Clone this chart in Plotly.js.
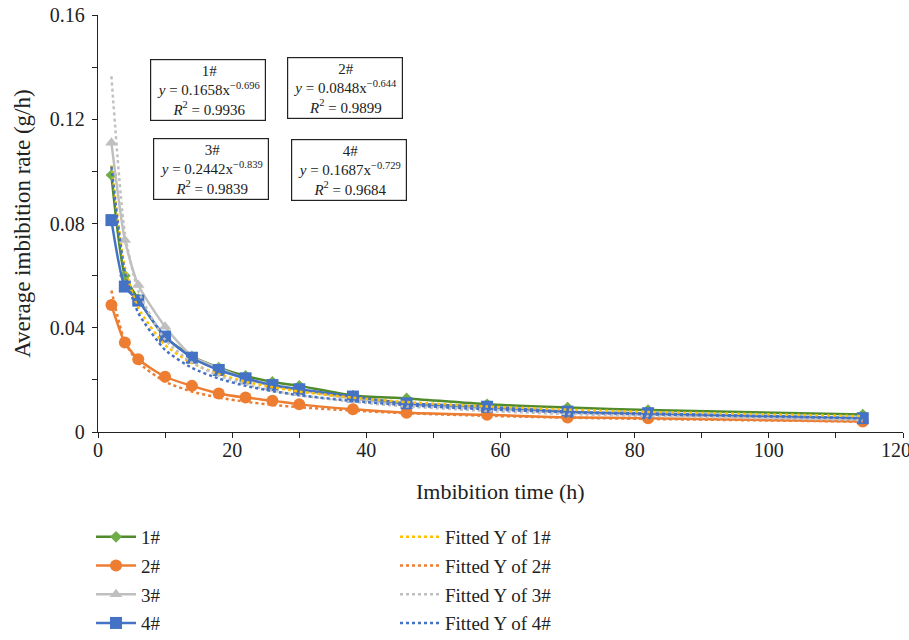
<!DOCTYPE html>
<html>
<head>
<meta charset="utf-8">
<script src="https://cdn.plot.ly/plotly-3.0.1.min.js"></script>
<style>html,body{margin:0;padding:0;background:#fff;}#chart{width:909px;height:640px;}</style>
</head>
<body>
<div id="chart"></div>
<script>
// Imbibition time (h)
const timeH = [2, 4, 6, 10, 14, 18, 22, 26, 30, 38, 46, 58, 70, 82, 114];

// Measured average imbibition rate (g/h)
const rate1 = [0.0986, 0.0600, 0.0510, 0.0365, 0.0290, 0.0247, 0.0215, 0.0192, 0.0177, 0.0140, 0.0129, 0.0106, 0.0094, 0.0084, 0.0067];
const rate2 = [0.0487, 0.0343, 0.0279, 0.0212, 0.0177, 0.0148, 0.0132, 0.0120, 0.0106, 0.0087, 0.0074, 0.0066, 0.0056, 0.0053, 0.0040];
const rate3 = [0.1110, 0.0737, 0.0564, 0.0404, 0.0291, 0.0245, 0.0205, 0.0178, 0.0160, 0.0128, 0.0105, 0.0090, 0.0074, 0.0066, 0.0048];
const rate4 = [0.0813, 0.0558, 0.0504, 0.0366, 0.0285, 0.0238, 0.0206, 0.0180, 0.0164, 0.0136, 0.0110, 0.0097, 0.0078, 0.0072, 0.0053];

// Fitted Y values
const fit1 = [0.1023, 0.0632, 0.0476, 0.0334, 0.0264, 0.0222, 0.0193, 0.0172, 0.0155, 0.0132, 0.0115, 0.0098, 0.0086, 0.0077, 0.0061];
const fit2 = [0.0543, 0.0347, 0.0267, 0.0193, 0.0155, 0.0132, 0.0116, 0.0104, 0.0095, 0.0082, 0.0072, 0.0062, 0.0055, 0.0050, 0.0040];
const fit3 = [0.1365, 0.0763, 0.0543, 0.0354, 0.0267, 0.0216, 0.0183, 0.0159, 0.0141, 0.0116, 0.0098, 0.0081, 0.0069, 0.0061, 0.0046];
const fit4 = [0.1018, 0.0614, 0.0457, 0.0315, 0.0246, 0.0205, 0.0177, 0.0157, 0.0141, 0.0119, 0.0103, 0.0087, 0.0076, 0.0068, 0.0053];

// Axis ticks
const xTickVals = [0, 20, 40, 60, 80, 100, 120];
const xTickText = ['0', '20', '40', '60', '80', '100', '120\u2007\u2009'];
const yTickVals = [0, 0.04, 0.08, 0.12, 0.16];
const yTickText = ['0', '0.04', '0.08', '0.12', '0.16'];

const xTitle = 'Imbibition time (h)';
const yTitle = 'Average imbibition rate (g/h)';
const seriesNames = ['1#', '2#', '3#', '4#'];
const fitNames = ['Fitted Y of 1#', 'Fitted Y of 2#', 'Fitted Y of 3#', 'Fitted Y of 4#'];
const equations = [
  '1#<br><i>y</i> = 0.1658x<sup>−0.696</sup><br><i>R</i><sup>2</sup> = 0.9936',
  '2#<br><i>y</i> = 0.0848x<sup>−0.644</sup><br><i>R</i><sup>2</sup> = 0.9899',
  '3#<br><i>y</i> = 0.2442x<sup>−0.839</sup><br><i>R</i><sup>2</sup> = 0.9839',
  '4#<br><i>y</i> = 0.1687x<sup>−0.729</sup><br><i>R</i><sup>2</sup> = 0.9684'
];

const FONT = 'Liberation Serif, Times New Roman, serif';
const rates = [rate1, rate2, rate3, rate4];
const fits = [fit1, fit2, fit3, fit4];
const lineColors = ['#4f8a2b', '#ed7d31', '#bfbfbf', '#4472c4'];
const markerColors = ['#70ad47', '#ed7d31', '#bfbfbf', '#4472c4'];
const fitColors = ['#ffc000', '#ed7d31', '#c0c0c0', '#4472c4'];
const symbols = ['diamond', 'circle', 'triangle-up', 'square'];
const sizes = [9, 12, 11, 12];

const traces = [];
for (let i = 0; i < 4; i++) {
  traces.push({
    x: timeH, y: rates[i], name: seriesNames[i], type: 'scatter', mode: 'lines+markers',
    line: {color: lineColors[i], width: 2.5, shape: 'spline', smoothing: 0.6},
    marker: {symbol: symbols[i], size: sizes[i], color: markerColors[i]},
    legend: 'legend', legendgroup: 'd' + i
  });
}
for (let i = 0; i < 4; i++) {
  traces.push({
    x: timeH, y: fits[i], name: fitNames[i], type: 'scatter', mode: 'lines',
    line: {color: fitColors[i], width: 2.5, dash: 'dot', shape: 'spline', smoothing: 0.6},
    legend: 'legend2', legendgroup: 'f' + i
  });
}

const boxPos = [[0.137, 0.821], [0.307, 0.824], [0.140, 0.630], [0.312, 0.629]];
const annotations = equations.map((t, i) => ({
  xref: 'paper', yref: 'paper', x: boxPos[i][0], y: boxPos[i][1],
  xanchor: 'center', yanchor: 'middle', text: t, showarrow: false,
  font: {family: FONT, size: 15, color: '#222'}, align: 'center',
  bordercolor: '#222', borderwidth: 1.2, borderpad: 2, bgcolor: '#fff',
  width: 110, height: 56
}));
// axis titles placed as annotations for exact positioning
annotations.push({
  xref: 'paper', yref: 'paper', x: -0.094, y: 0.5, xanchor: 'center', yanchor: 'middle',
  text: yTitle, textangle: -90, showarrow: false,
  font: {family: FONT, size: 23, color: '#222'}
});
annotations.push({
  xref: 'paper', yref: 'paper', x: 0.5, y: -0.1415, xanchor: 'center', yanchor: 'middle',
  text: xTitle, showarrow: false,
  font: {family: FONT, size: 22, color: '#222'}
});

const legendCommon = {
  orientation: 'v', xref: 'container', yref: 'container', yanchor: 'top', xanchor: 'left',
  font: {family: FONT, size: 19, color: '#222'}, traceorder: 'grouped', tracegroupgap: 1,
  bgcolor: 'rgba(0,0,0,0)', itemwidth: 40
};

const layout = {
  width: 909, height: 640,
  margin: {l: 98, r: 6, t: 15, b: 208, autoexpand: false},
  paper_bgcolor: '#fff', plot_bgcolor: '#fff',
  showlegend: true, hovermode: false,
  font: {family: FONT, size: 17, color: '#222'},
  xaxis: {
    range: [0, 120], tickmode: 'array', tickvals: xTickVals, ticktext: xTickText,
    showgrid: false, zeroline: false, ticklabeloverflow: 'allow',
    showline: true, linecolor: '#222', linewidth: 1.2,
    ticks: 'outside', ticklen: 5, tickcolor: '#222',
    minor: {dtick: 10, tick0: 0, ticks: 'outside', ticklen: 5, tickcolor: '#222', showgrid: false},
    tickfont: {family: FONT, size: 20, color: '#222'},
    ticklabelstandoff: -5,
    automargin: false
  },
  yaxis: {
    range: [0, 0.16], tickmode: 'array', tickvals: yTickVals, ticktext: yTickText,
    showgrid: false, zeroline: false,
    showline: true, linecolor: '#222', linewidth: 1.2,
    ticks: 'outside', ticklen: 5, tickcolor: '#222',
    minor: {dtick: 0.02, tick0: 0, ticks: 'outside', ticklen: 5, tickcolor: '#222', showgrid: false},
    tickfont: {family: FONT, size: 20, color: '#222'},
    ticklabelstandoff: 3,
    automargin: false
  },
  legend: Object.assign({}, legendCommon, {x: 91 / 909, y: 1 - 518 / 640}),
  legend2: Object.assign({}, legendCommon, {x: 395 / 909, y: 1 - 518 / 640}),
  annotations: annotations
};

Plotly.newPlot('chart', traces, layout, {displayModeBar: false, staticPlot: true});
</script>
</body>
</html>
